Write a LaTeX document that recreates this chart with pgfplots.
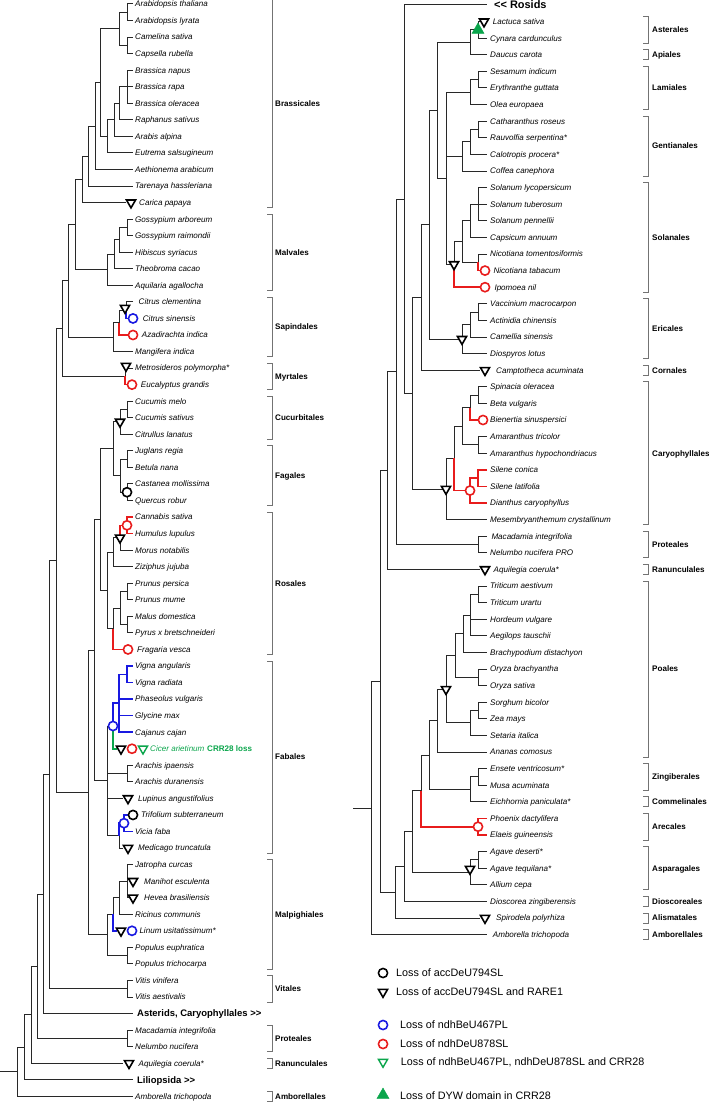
\documentclass[border=0pt]{standalone}
\usepackage{pgfplots}
\pgfplotsset{compat=1.18}
\usepackage{fontspec}
\setmainfont{Liberation Sans}
\definecolor{tb}{RGB}{25,25,225}
\definecolor{tr}{RGB}{232,28,28}
\definecolor{tg}{RGB}{10,165,75}
\definecolor{tl}{RGB}{40,40,40}
\tikzset{
 sp/.style={anchor=west,inner sep=0pt,font=\fontsize{8.1}{9}\selectfont\itshape,text height=5.8pt,text depth=0pt},
 cl/.style={anchor=west,inner sep=0pt,font=\fontsize{8.1}{9}\selectfont\bfseries,text height=5.8pt,text depth=0pt},
 big/.style={anchor=west,inner sep=0pt,font=\fontsize{9.5}{11}\selectfont\bfseries,text height=6.8pt,text depth=0pt},
 lg/.style={anchor=west,inner sep=0pt,font=\fontsize{10.8}{12}\selectfont,text height=7.7pt,text depth=0pt},
}
\newcommand\SP[3]{\node[sp] at (axis cs:#1,#2) {#3};}
\newcommand\CL[3]{\node[cl] at (axis cs:#1,#2) {#3};}
\begin{document}
\begin{tikzpicture}
\begin{axis}[width=709bp,height=1103bp,scale only axis,xmin=0,xmax=709,ymin=0,ymax=1103,
 y dir=reverse,hide axis,clip=false,unbounded coords=jump,
 tree/.style={no marks,line width=1pt,color=tl},
 ctree/.style={no marks,line width=1.6pt},
 brk/.style={no marks,line width=0.8pt,color=black!55}]
% ---------------- left tree, black
\addplot[tree] coordinates {
(133,4.0)(127,4.0)(127,20.55)(133,20.55)(nan,nan)
(127,12.3)(119,12.3)(119,45.4)(127,45.4)(nan,nan)
(133,37.1)(127,37.1)(127,53.65)(133,53.65)(nan,nan)
(133,70.2)(127,70.2)(127,103.3)(133,103.3)(nan,nan)
(133,86.75)(119,86.75)(119,119.85)(133,119.85)(nan,nan)
(119,103.3)(114,103.3)(114,136.4)(133,136.4)(nan,nan)
(114,119.85)(107,119.85)(107,152.95)(133,152.95)(nan,nan)
(119,28.85)(100,28.85)(100,136.4)(107,136.4)(nan,nan)
(100,82.6)(95,82.6)(95,169.5)(133,169.5)(nan,nan)
(95,126.05)(88,126.05)(88,186.05)(133,186.05)(nan,nan)
(88,156.05)(82,156.05)(82,202.6)(126,202.6)(nan,nan)
(133,219.15)(127,219.15)(127,235.7)(133,235.7)(nan,nan)
(127,227.4)(119,227.4)(119,252.25)(133,252.25)(nan,nan)
(119,239.8)(114,239.8)(114,268.8)(133,268.8)(nan,nan)
(114,254.3)(107,254.3)(107,285.35)(133,285.35)(nan,nan)
(82,179.3)(75,179.3)(75,269.8)(107,269.8)(nan,nan)
(133,301.9)(126,301.9)(126,310.2)(nan,nan)
(126,310.2)(119,310.2)(119,322.6)(nan,nan)
(119,322.6)(113,322.6)(113,351.55)(133,351.55)(nan,nan)
(75,224.55)(68,224.55)(68,337.1)(113,337.1)(nan,nan)
(133,368.1)(125,368.1)(125,376.4)(nan,nan)
(68,280.8)(62,280.8)(62,376.4)(125,376.4)(nan,nan)
(133,401.2)(127,401.2)(127,417.75)(133,417.75)(nan,nan)
(127,409.5)(120,409.5)(120,434.3)(133,434.3)(nan,nan)
(133,450.85)(127,450.85)(127,467.4)(133,467.4)(nan,nan)
(133,483.95)(127,483.95)(127,500.5)(133,500.5)(nan,nan)
(127,459.1)(120,459.1)(120,492.2)(127,492.2)(nan,nan)
(120,421.9)(113,421.9)(113,475.7)(120,475.7)(nan,nan)
(120,537.7)(120,550.15)(133,550.15)(nan,nan)
(120,537.7)(113,537.7)(113,566.7)(133,566.7)(nan,nan)
(133,583.25)(127,583.25)(127,599.8)(133,599.8)(nan,nan)
(133,616.35)(127,616.35)(127,632.9)(133,632.9)(nan,nan)
(127,591.5)(120,591.5)(120,624.6)(127,624.6)(nan,nan)
(120,608.1)(113,608.1)(113,628.8)(nan,nan)
(113,552.2)(107,552.2)(107,628.8)(113,628.8)(nan,nan)
(113,448.8)(100,448.8)(100,590.5)(107,590.5)(nan,nan)
(133,765.3)(127,765.3)(127,781.85)(133,781.85)(nan,nan)
(113,726)(107,726)(107,835.6)(119,835.6)(nan,nan)
(107,773.6)(127,773.6)(nan,nan)
(107,798.4)(123,798.4)(nan,nan)
(119,835.6)(119,848.05)(123,848.05)(nan,nan)
(100,519.65)(94,519.65)(94,780.8)(107,780.8)(nan,nan)
(133,864.6)(127,864.6)(127,897.7)(129,897.7)(nan,nan)
(127,881.15)(119,881.15)(119,914.25)(133,914.25)(nan,nan)
(119,897.7)(113,897.7)(113,914.25)(nan,nan)
(133,947.35)(127,947.35)(127,963.9)(133,963.9)(nan,nan)
(113,914.25)(107,914.25)(107,955.6)(127,955.6)(nan,nan)
(94,650.2)(88,650.2)(88,934.9)(107,934.9)(nan,nan)
(62,328.6)(56,328.6)(56,792.55)(88,792.55)(nan,nan)
(133,980.45)(127,980.45)(127,997.0)(133,997.0)(nan,nan)
(56,560.6)(49,560.6)(49,988.7)(127,988.7)(nan,nan)
(49,774.65)(43,774.65)(43,1013.55)(133,1013.55)(nan,nan)
(133,1030.1)(127,1030.1)(127,1046.65)(133,1046.65)(nan,nan)
(43,894.1)(37,894.1)(37,1038.4)(127,1038.4)(nan,nan)
(37,966.25)(31,966.25)(31,1063.2)(123,1063.2)(nan,nan)
(31,1014.7)(24,1014.7)(24,1079.75)(133,1079.75)(nan,nan)
(24,1047.2)(17,1047.2)(17,1096.3)(133,1096.3)(nan,nan)
(0,1071.75)(17,1071.75)
};
% left tree, blue
\addplot[ctree,color=tb] coordinates {
(126,310.2)(126,318.45)(129,318.45)(nan,nan)
(133,666.0)(127,666.0)(127,682.55)(133,682.55)(nan,nan)
(127,674.3)(119,674.3)(119,732.2)(133,732.2)(nan,nan)
(119,699.1)(133,699.1)(nan,nan)
(119,715.65)(133,715.65)(nan,nan)
(119,703.25)(113,703.25)(113,726)(nan,nan)
(124,823.2)(119,823.2)(119,835.6)(nan,nan)
(129,814.95)(124,814.95)(124,831.5)(133,831.5)(nan,nan)
(113,914.25)(113,930.8)(117,930.8)
};
% left tree, red
\addplot[ctree,color=tr] coordinates {
(119,322.6)(119,335)(129,335)(nan,nan)
(125,376.4)(125,384.65)(128,384.65)(nan,nan)
(133,517.05)(127,517.05)(127,533.6)(133,533.6)(nan,nan)
(127,525.3)(120,525.3)(120,537.7)(nan,nan)
(113,628.8)(113,649.45)(124,649.45)
};
% left tree, green
\addplot[ctree,color=tg] coordinates {(113,726)(113,748.75)(117,748.75)};
% ---------------- right tree, black
\addplot[tree] coordinates {
(404,5.0)(487,5.0)(nan,nan)
(484,21.6)(478,21.6)(478,38.2)(487,38.2)(nan,nan)
(478,29.9)(470,29.9)(470,54.8)(487,54.8)(nan,nan)
(487,71.4)(478,71.4)(478,88.0)(487,88.0)(nan,nan)
(478,79.7)(470,79.7)(470,104.6)(487,104.6)(nan,nan)
(487,121.2)(478,121.2)(478,137.8)(487,137.8)(nan,nan)
(478,129.5)(470,129.5)(470,154.4)(487,154.4)(nan,nan)
(470,141.95)(462,141.95)(462,171.0)(487,171.0)(nan,nan)
(487,187.6)(478,187.6)(478,220.8)(487,220.8)(nan,nan)
(470,204.2)(487,204.2)(nan,nan)
(470,204.2)(470,237.4)(487,237.4)(nan,nan)
(487,254.0)(478,254.0)(478,262.3)(nan,nan)
(470,220.8)(462,220.8)(462,262.3)(478,262.3)(nan,nan)
(462,241.55)(454,241.55)(454,264.4)(nan,nan)
(470,92.15)(446,92.15)(446,264.4)(454,264.4)(nan,nan)
(446,156.5)(462,156.5)(nan,nan)
(470,42.35)(437,42.35)(437,178.3)(446,178.3)(nan,nan)
(487,303.8)(478,303.8)(478,320.4)(487,320.4)(nan,nan)
(478,312.1)(470,312.1)(470,337.0)(487,337.0)(nan,nan)
(470,324.55)(462,324.55)(462,353.6)(487,353.6)(nan,nan)
(437,110.3)(429,110.3)(429,339.1)(462,339.1)(nan,nan)
(429,224.7)(421,224.7)(421,370.2)(480,370.2)(nan,nan)
(487,386.8)(478,386.8)(478,403.4)(487,403.4)(nan,nan)
(478,395.1)(470,395.1)(470,407.55)(nan,nan)
(487,436.6)(478,436.6)(478,453.2)(487,453.2)(nan,nan)
(470,407.55)(462,407.55)(462,444.9)(478,444.9)(nan,nan)
(462,426.2)(454,426.2)(454,458.4)(nan,nan)
(454,458.4)(446,458.4)(446,519.6)(487,519.6)(nan,nan)
(421,297.45)(412,297.45)(412,489.0)(446,489.0)(nan,nan)
(404,5.0)(404,393.2)(412,393.2)(nan,nan)
(487,536.2)(478,536.2)(478,552.8)(487,552.8)(nan,nan)
(404,199.1)(396,199.1)(396,544.5)(478,544.5)(nan,nan)
(396,371.8)(387,371.8)(387,569.4)(480,569.4)(nan,nan)
(487,586.0)(478,586.0)(478,602.6)(487,602.6)(nan,nan)
(478,594.3)(470,594.3)(470,635.8)(487,635.8)(nan,nan)
(470,619.2)(487,619.2)(nan,nan)
(470,615.05)(463,615.05)(463,652.4)(487,652.4)(nan,nan)
(487,669.0)(478,669.0)(478,685.6)(487,685.6)(nan,nan)
(463,633.7)(455,633.7)(455,677.3)(478,677.3)(nan,nan)
(487,702.2)(478,702.2)(478,718.8)(487,718.8)(nan,nan)
(478,710.5)(470,710.5)(470,735.4)(487,735.4)(nan,nan)
(455,655.5)(446,655.5)(446,722.95)(470,722.95)(nan,nan)
(446,689.2)(437,689.2)(437,752.0)(487,752.0)(nan,nan)
(487,768.6)(478,768.6)(478,785.2)(487,785.2)(nan,nan)
(478,776.9)(470,776.9)(470,801.8)(487,801.8)(nan,nan)
(437,720.6)(429,720.6)(429,789.35)(470,789.35)(nan,nan)
(429,755.0)(421,755.0)(421,790.85)(nan,nan)
(487,851.6)(478,851.6)(478,868.2)(487,868.2)(nan,nan)
(478,859.9)(470,859.9)(470,884.8)(487,884.8)(nan,nan)
(421,790.85)(412,790.85)(412,872.35)(470,872.35)(nan,nan)
(412,831.6)(404,831.6)(404,901.4)(487,901.4)(nan,nan)
(404,866.5)(395,866.5)(395,918.0)(480,918.0)(nan,nan)
(387,470.6)(380,470.6)(380,892.25)(395,892.25)(nan,nan)
(380,681.4)(371,681.4)(371,934.6)(487,934.6)(nan,nan)
(353,808.0)(371,808.0)
};
% right tree, red
\addplot[ctree,color=tr] coordinates {
(478,262.3)(478,270.6)(481,270.6)(nan,nan)
(454,264.4)(454,287.2)(481,287.2)(nan,nan)
(470,407.55)(470,420.0)(479,420.0)(nan,nan)
(487,469.8)(478,469.8)(478,486.4)(487,486.4)(nan,nan)
(478,478.1)(470,478.1)(470,503.0)(487,503.0)(nan,nan)
(454,458.4)(454,490.55)(470,490.55)(nan,nan)
(421,790.85)(421,826.7)(478,826.7)(nan,nan)
(487,818.4)(478,818.4)(478,835.0)(487,835.0)
};
% ---------------- brackets
\addplot[brk] coordinates {
(267,-1.0)(272,-1.0)(272,207.6)(267,207.6)(nan,nan)
(267,214.15)(272,214.15)(272,290.35)(267,290.35)(nan,nan)
(267,296.9)(272,296.9)(272,356.55)(267,356.55)(nan,nan)
(267,363.1)(272,363.1)(272,389.65)(267,389.65)(nan,nan)
(267,396.2)(272,396.2)(272,439.3)(267,439.3)(nan,nan)
(267,445.85)(272,445.85)(272,505.5)(267,505.5)(nan,nan)
(267,512.05)(272,512.05)(272,654.45)(267,654.45)(nan,nan)
(267,661.0)(272,661.0)(272,853.05)(267,853.05)(nan,nan)
(267,859.6)(272,859.6)(272,968.9)(267,968.9)(nan,nan)
(267,975.45)(272,975.45)(272,1002.0)(267,1002.0)(nan,nan)
(267,1025.1)(272,1025.1)(272,1051.65)(267,1051.65)(nan,nan)
(267,1058.2)(272,1058.2)(272,1068.2)(267,1068.2)(nan,nan)
(267,1091.3)(272,1091.3)(272,1101.3)(267,1101.3)(nan,nan)
(643,16.6)(648,16.6)(648,43.2)(643,43.2)(nan,nan)
(643,49.8)(648,49.8)(648,59.8)(643,59.8)(nan,nan)
(643,66.4)(648,66.4)(648,109.6)(643,109.6)(nan,nan)
(643,116.2)(648,116.2)(648,176.0)(643,176.0)(nan,nan)
(643,182.6)(648,182.6)(648,292.2)(643,292.2)(nan,nan)
(643,298.8)(648,298.8)(648,358.6)(643,358.6)(nan,nan)
(643,365.2)(648,365.2)(648,375.2)(643,375.2)(nan,nan)
(643,381.8)(648,381.8)(648,524.6)(643,524.6)(nan,nan)
(643,531.2)(648,531.2)(648,557.8)(643,557.8)(nan,nan)
(643,564.4)(648,564.4)(648,574.4)(643,574.4)(nan,nan)
(643,581.0)(648,581.0)(648,757.0)(643,757.0)(nan,nan)
(643,763.6)(648,763.6)(648,790.2)(643,790.2)(nan,nan)
(643,796.8)(648,796.8)(648,806.8)(643,806.8)(nan,nan)
(643,813.4)(648,813.4)(648,840.0)(643,840.0)(nan,nan)
(643,846.6)(648,846.6)(648,889.8)(643,889.8)(nan,nan)
(643,896.4)(648,896.4)(648,906.4)(643,906.4)(nan,nan)
(643,913.0)(648,913.0)(648,923.0)(643,923.0)(nan,nan)
(643,929.6)(648,929.6)(648,939.6)(643,939.6)
};
% ---------------- markers
% black open down-triangles
\addplot[only marks,mark=triangle*,mark size=5.3pt,mark options={rotate=180,draw=black,fill=white,line width=1.6pt}] coordinates {
(131,202.6)(125,308)(126,366)(120,421.9)(120,537.7)(121,748.75)(128,798.4)(128,848.05)
(133,881.15)(133,897.7)(121,930.8)(129,1063.2)
(484,21.6)(454,264.4)(462,339.1)(485,370.2)(446,489)(485,569.4)(446,689.2)(470,869)(485,918)
(383,992)};
% black open circles
\addplot[only marks,mark=*,mark size=4.6pt,mark options={draw=black,fill=white,line width=1.6pt}] coordinates {
(127,492.2)(133,814.95)(383,973)};
% blue open circles
\addplot[only marks,mark=*,mark size=4.6pt,mark options={draw=tb,fill=white,line width=1.6pt}] coordinates {
(133,318.45)(113,726)(124,823.2)(132,930.8)(383,1025)};
% red open circles
\addplot[only marks,mark=*,mark size=4.6pt,mark options={draw=tr,fill=white,line width=1.6pt}] coordinates {
(133,335)(132,384.65)(127,525.3)(128,649.45)(132,748.75)(485,270.6)(485,287.2)(483,420.0)(470,490.55)(478,826.7)(383,1044)};
% green open down-triangles
\addplot[only marks,mark=triangle*,mark size=5.3pt,mark options={rotate=180,draw=tg,fill=white,line width=1.4pt}] coordinates {
(143,748.75)(383,1062)};
% green filled up-triangles
\addplot[only marks,mark=triangle*,mark size=7pt,mark options={draw=tg,fill=tg}] coordinates {
(478,29.9)(383,1095)};
% ---------------- left labels
\SP{135}{4.0}{Arabidopsis thaliana}
\SP{135}{20.55}{Arabidopsis lyrata}
\SP{135}{37.1}{Camelina sativa}
\SP{135}{53.65}{Capsella rubella}
\SP{135}{70.2}{Brassica napus}
\SP{135}{86.75}{Brassica rapa}
\SP{135}{103.3}{Brassica oleracea}
\SP{135}{119.85}{Raphanus sativus}
\SP{135}{136.4}{Arabis alpina}
\SP{135}{152.95}{Eutrema salsugineum}
\SP{135}{169.5}{Aethionema arabicum}
\SP{135}{186.05}{Tarenaya hassleriana}
\SP{139}{202.6}{Carica papaya}
\SP{135}{219.15}{Gossypium arboreum}
\SP{135}{235.7}{Gossypium raimondii}
\SP{135}{252.25}{Hibiscus syriacus}
\SP{135}{268.8}{Theobroma cacao}
\SP{135}{285.35}{Aquilaria agallocha}
\SP{138.5}{301.9}{Citrus clementina}
\SP{142.7}{318.45}{Citrus sinensis}
\SP{141.7}{335.0}{Azadirachta indica}
\SP{135}{351.55}{Mangifera indica}
\SP{135}{368.1}{Metrosideros polymorpha*}
\SP{140.7}{384.65}{Eucalyptus grandis}
\SP{135}{401.2}{Cucumis melo}
\SP{135}{417.75}{Cucumis sativus}
\SP{135}{434.3}{Citrullus lanatus}
\SP{135}{450.85}{Juglans regia}
\SP{135}{467.4}{Betula nana}
\SP{135}{483.95}{Castanea mollissima}
\SP{135}{500.5}{Quercus robur}
\SP{135}{517.05}{Cannabis sativa}
\SP{135}{533.6}{Humulus lupulus}
\SP{135}{550.15}{Morus notabilis}
\SP{135}{566.7}{Ziziphus jujuba}
\SP{135}{583.25}{Prunus persica}
\SP{135}{599.8}{Prunus mume}
\SP{135}{616.35}{Malus domestica}
\SP{135}{632.9}{Pyrus x bretschneideri}
\SP{137}{649.45}{Fragaria vesca}
\SP{135}{666.0}{Vigna angularis}
\SP{135}{682.55}{Vigna radiata}
\SP{135}{699.1}{Phaseolus vulgaris}
\SP{135}{715.65}{Glycine max}
\SP{135}{732.2}{Cajanus cajan}
\node[sp,text=tg] at (axis cs:150,748.75) {Cicer arietinum};
\node[cl,text=tg] at (axis cs:207,748.75) {CRR28 loss};
\SP{135}{765.3}{Arachis ipaensis}
\SP{135}{781.85}{Arachis duranensis}
\SP{138}{798.4}{Lupinus angustifolius}
\SP{141}{814.95}{Trifolium subterraneum}
\SP{135}{831.5}{Vicia faba}
\SP{138}{848.05}{Medicago truncatula}
\SP{135}{864.6}{Jatropha curcas}
\SP{144}{881.15}{Manihot esculenta}
\SP{144}{897.7}{Hevea brasiliensis}
\SP{135}{914.25}{Ricinus communis}
\SP{139.3}{930.8}{Linum usitatissimum*}
\SP{135}{947.35}{Populus euphratica}
\SP{135}{963.9}{Populus trichocarpa}
\SP{135}{980.45}{Vitis vinifera}
\SP{135}{997.0}{Vitis aestivalis}
\node[big] at (axis cs:137,1013.55) {Asterids, Caryophyllales >\kern0pt>};
\SP{135}{1030.1}{Macadamia integrifolia}
\SP{135}{1046.65}{Nelumbo nucifera}
\SP{138.5}{1063.2}{Aquilegia coerula*}
\node[big] at (axis cs:137,1079.75) {Liliopsida >\kern0pt>};
\SP{135}{1096.3}{Amborella trichopoda}
% left clade labels
\CL{275}{103.3}{Brassicales}
\CL{275}{252.25}{Malvales}
\CL{275}{326.7}{Sapindales}
\CL{275}{376.4}{Myrtales}
\CL{275}{417.75}{Cucurbitales}
\CL{275}{475.7}{Fagales}
\CL{275}{583.25}{Rosales}
\CL{275}{757.0}{Fabales}
\CL{275}{914.25}{Malpighiales}
\CL{275}{988.7}{Vitales}
\CL{275}{1038.4}{Proteales}
\CL{275}{1063.2}{Ranunculales}
\CL{275}{1096.3}{Amborellales}
% ---------------- right labels
\node[big,font=\fontsize{11}{13}\selectfont\bfseries,text height=7.9pt] at (axis cs:494,5.0) {<\kern0pt< Rosids};
\SP{492.7}{21.6}{Lactuca sativa}
\SP{490}{38.2}{Cynara cardunculus}
\SP{490}{54.8}{Daucus carota}
\SP{490}{71.4}{Sesamum indicum}
\SP{490}{88.0}{Erythranthe guttata}
\SP{490}{104.6}{Olea europaea}
\SP{490}{121.2}{Catharanthus roseus}
\SP{490}{137.8}{Rauvolfia serpentina*}
\SP{490}{154.4}{Calotropis procera*}
\SP{490}{171.0}{Coffea canephora}
\SP{490}{187.6}{Solanum lycopersicum}
\SP{490}{204.2}{Solanum tuberosum}
\SP{490}{220.8}{Solanum pennellii}
\SP{490}{237.4}{Capsicum annuum}
\SP{490}{254.0}{Nicotiana tomentosiformis}
\SP{493.3}{270.6}{Nicotiana tabacum}
\SP{494.3}{287.2}{Ipomoea nil}
\SP{490}{303.8}{Vaccinium macrocarpon}
\SP{490}{320.4}{Actinidia chinensis}
\SP{490}{337.0}{Camellia sinensis}
\SP{490}{353.6}{Diospyros lotus}
\SP{496}{370.2}{Camptotheca acuminata}
\SP{490}{386.8}{Spinacia oleracea}
\SP{490}{403.4}{Beta vulgaris}
\SP{490}{420.0}{Bienertia sinuspersici}
\SP{490}{436.6}{Amaranthus tricolor}
\SP{490}{453.2}{Amaranthus hypochondriacus}
\SP{490}{469.8}{Silene conica}
\SP{490}{486.4}{Silene latifolia}
\SP{490}{503.0}{Dianthus caryophyllus}
\SP{490}{519.6}{Mesembryanthemum crystallinum}
\SP{491.3}{536.2}{Macadamia integrifolia}
\SP{490}{552.8}{Nelumbo nucifera PRO}
\SP{493.5}{569.4}{Aquilegia coerula*}
\SP{490}{586.0}{Triticum aestivum}
\SP{490}{602.6}{Triticum urartu}
\SP{490}{619.2}{Hordeum vulgare}
\SP{490}{635.8}{Aegilops tauschii}
\SP{490}{652.4}{Brachypodium distachyon}
\SP{490}{669.0}{Oryza brachyantha}
\SP{490}{685.6}{Oryza sativa}
\SP{490}{702.2}{Sorghum bicolor}
\SP{490}{718.8}{Zea mays}
\SP{490}{735.4}{Setaria italica}
\SP{490}{752.0}{Ananas comosus}
\SP{490}{768.6}{Ensete ventricosum*}
\SP{490}{785.2}{Musa acuminata}
\SP{490}{801.8}{Eichhornia paniculata*}
\SP{490}{818.4}{Phoenix dactylifera}
\SP{490}{835.0}{Elaeis guineensis}
\SP{490}{851.6}{Agave deserti*}
\SP{490}{868.2}{Agave tequilana*}
\SP{490}{884.8}{Allium cepa}
\SP{490}{901.4}{Dioscorea zingiberensis}
\SP{496}{918.0}{Spirodela polyrhiza}
\SP{492.7}{934.6}{Amborella trichopoda}
% right clade labels
\CL{652}{29.9}{Asterales}
\CL{652}{54.8}{Apiales}
\CL{652}{88.0}{Lamiales}
\CL{652}{146.1}{Gentianales}
\CL{652}{237.4}{Solanales}
\CL{652}{328.7}{Ericales}
\CL{652}{370.2}{Cornales}
\CL{652}{453.2}{Caryophyllales}
\CL{652}{544.5}{Proteales}
\CL{652}{569.4}{Ranunculales}
\CL{652}{669.0}{Poales}
\CL{652}{776.9}{Zingiberales}
\CL{652}{801.8}{Commelinales}
\CL{652}{826.7}{Arecales}
\CL{652}{868.2}{Asparagales}
\CL{652}{901.4}{Dioscoreales}
\CL{652}{918.0}{Alismatales}
\CL{652}{934.6}{Amborellales}
% ---------------- legend texts
\node[lg] at (axis cs:396,973) {Loss of accDeU794SL};
\node[lg] at (axis cs:396,992) {Loss of accDeU794SL and RARE1};
\node[lg] at (axis cs:400,1025) {Loss of ndhBeU467PL};
\node[lg] at (axis cs:400,1044) {Loss of ndhDeU878SL};
\node[lg] at (axis cs:400.7,1062) {Loss of ndhBeU467PL, ndhDeU878SL and CRR28};
\node[lg] at (axis cs:400,1096) {Loss of DYW domain in CRR28};
\end{axis}
\pgfresetboundingbox
\useasboundingbox (current axis.south west) rectangle (current axis.north east);
\end{tikzpicture}
\end{document}
